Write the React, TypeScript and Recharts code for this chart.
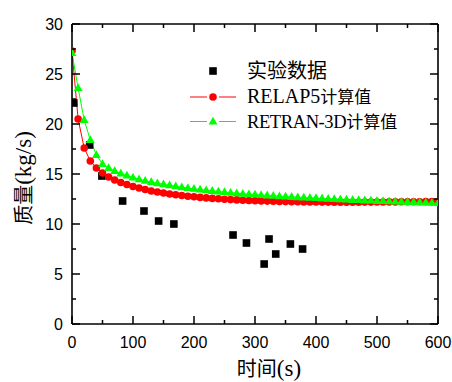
import React from 'react';
import { ComposedChart, XAxis, YAxis, Line, Scatter, Legend } from 'recharts';

const simTimes = [
  0, 10, 20, 30, 40, 50, 60, 70, 80, 90,
  100, 110, 120, 130, 140, 150, 160, 170, 180, 190,
  200, 210, 220, 230, 240, 250, 260, 270, 280, 290,
  300, 310, 320, 330, 340, 350, 360, 370, 380, 390,
  400, 410, 420, 430, 440, 450, 460, 470, 480, 490,
  500, 510, 520, 530, 540, 550, 560, 570, 580, 590, 600,
];
const relap5Mass = [
  27.3, 20.5, 17.6, 16.3, 15.6, 15.1, 14.7, 14.4, 14.15, 13.95,
  13.75, 13.6, 13.45, 13.3, 13.2, 13.1, 13.0, 12.92, 12.85, 12.78,
  12.72, 12.66, 12.61, 12.56, 12.52, 12.48, 12.44, 12.41, 12.38, 12.35,
  12.33, 12.31, 12.29, 12.27, 12.25, 12.24, 12.23, 12.22, 12.21, 12.2,
  12.2, 12.19, 12.19, 12.18, 12.18, 12.18, 12.18, 12.18, 12.19, 12.19,
  12.2, 12.2, 12.21, 12.21, 12.22, 12.22, 12.23, 12.23, 12.24, 12.24, 12.25,
];
const retranMass = [
  27.1, 23.6, 20.4, 18.4, 16.9, 16.0, 15.6, 15.3, 15.05, 14.85,
  14.65, 14.48, 14.33, 14.2, 14.08, 13.97, 13.87, 13.77, 13.68, 13.6,
  13.52, 13.45, 13.38, 13.31, 13.25, 13.19, 13.13, 13.08, 13.03, 12.98,
  12.94, 12.9, 12.86, 12.82, 12.78, 12.74, 12.71, 12.68, 12.65, 12.62,
  12.59, 12.56, 12.53, 12.5, 12.47, 12.44, 12.41, 12.39, 12.36, 12.34,
  12.31, 12.29, 12.27, 12.25, 12.23, 12.21, 12.19, 12.17, 12.15, 12.13, 12.11,
];
const expTimes = [3, 29, 49, 83, 118, 142, 167, 264, 286, 315, 323, 334, 358, 378];
const expMass = [22.1, 17.9, 14.8, 12.3, 11.3, 10.3, 10.0, 8.9, 8.1, 6.0, 8.5, 7.0, 8.0, 7.5];

const xTicks = [0, 50, 100, 150, 200, 250, 300, 350, 400, 450, 500, 550, 600];
const xMajor = [0, 100, 200, 300, 400, 500, 600];
const yTicks = [0, 2.5, 5, 7.5, 10, 12.5, 15, 17.5, 20, 22.5, 25, 27.5, 30];
const yMajor = [0, 5, 10, 15, 20, 25, 30];

const legendNames = ['实验数据', 'RELAP5', 'RETRAN-3D'];
const legendSuffix = '计算值';

const relapData = simTimes.map((t, i) => ({ x: t, y: relap5Mass[i] }));
const retranData = simTimes.map((t, i) => ({ x: t, y: retranMass[i] }));
const expData = expTimes.map((t, i) => ({ x: t, y: expMass[i] }));

// layout constants (chart frame)
const PLOT_TOP = 24;
const PLOT_RIGHT = 438;

const SANS = 'Liberation Sans, Arial, sans-serif';
const SERIF = 'Liberation Serif, Times New Roman, serif';
const CJK = 'Noto Sans CJK SC, sans-serif';
const MAJ = 8;
const MIN = 4;
const TW = 1.5;

const BottomTick = (props: any) => {
  const { x, y, payload } = props;
  const major = xMajor.includes(payload.value);
  const len = major ? MAJ : MIN;
  return (
    <g>
      <line x1={x} x2={x} y1={y} y2={y - len} stroke="#000" strokeWidth={TW} />
      <line x1={x} x2={x} y1={PLOT_TOP} y2={PLOT_TOP + len} stroke="#000" strokeWidth={TW} />
      {major && (
        <text x={x} y={y + 24} textAnchor="middle" fill="#000" style={{ fontFamily: SANS, fontSize: 16 }}>
          {payload.value}
        </text>
      )}
    </g>
  );
};
const LeftTick = (props: any) => {
  const { x, y, payload } = props;
  const major = yMajor.includes(payload.value);
  const len = major ? MAJ : MIN;
  return (
    <g>
      <line x1={x} x2={x + len} y1={y} y2={y} stroke="#000" strokeWidth={TW} />
      <line x1={PLOT_RIGHT} x2={PLOT_RIGHT - len} y1={y} y2={y} stroke="#000" strokeWidth={TW} />
      {major && (
        <text x={x - 9} y={y + 6} textAnchor="end" fill="#000" style={{ fontFamily: SANS, fontSize: 16 }}>
          {payload.value}
        </text>
      )}
    </g>
  );
};

const RedDot = (props: any) => {
  const { cx, cy, index } = props;
  if (cx == null || cy == null) return <g key={index} />;
  return <circle key={index} cx={cx} cy={cy} r={3.8} fill="#ff0000" />;
};
const GreenDot = (props: any) => {
  const { cx, cy, index } = props;
  if (cx == null || cy == null) return <g key={index} />;
  return (
    <polygon
      key={index}
      points={`${cx},${cy - 4.8} ${cx - 4.4},${cy + 3} ${cx + 4.4},${cy + 3}`}
      fill="#00ff00"
    />
  );
};
const BlackSquare = (props: any) => {
  const { cx, cy } = props;
  return <rect x={cx - 3.8} y={cy - 3.8} width={7.6} height={7.6} fill="#000" />;
};

const cjkStyle = (size: number) => ({ fontFamily: CJK, fontSize: size });
const serifStyle = (size: number) => ({ fontFamily: SERIF, fontSize: size });

const LegendBox = () => (
  <svg width={260} height={80} style={{ display: 'block', overflow: 'visible' }}>
    <rect x={24.2} y={12.2} width={7.6} height={7.6} fill="#000" />
    <text x={62} y={23} fill="#000" style={cjkStyle(20)}>{legendNames[0]}</text>

    <line x1={5} x2={22} y1={42} y2={42} stroke="#ff0000" strokeWidth={1} />
    <line x1={34} x2={51} y1={42} y2={42} stroke="#ff0000" strokeWidth={1} />
    <circle cx={28} cy={42} r={3.8} fill="#ff0000" />
    <text x={62} y={48} fill="#000">
      <tspan style={serifStyle(20)}>{legendNames[1]}</tspan>
      <tspan style={cjkStyle(17)}>{legendSuffix}</tspan>
    </text>

    <line x1={5} x2={22} y1={66.5} y2={66.5} stroke="#00ff00" strokeWidth={1} />
    <line x1={34} x2={51} y1={66.5} y2={66.5} stroke="#00ff00" strokeWidth={1} />
    <polygon points="28,61.7 23.6,69.5 32.4,69.5" fill="#00ff00" />
    <text x={62} y={73} fill="#000">
      <tspan style={{ ...serifStyle(18.5), letterSpacing: -0.4 }}>{legendNames[2]}</tspan>
      <tspan style={cjkStyle(17)}>{legendSuffix}</tspan>
    </text>
  </svg>
);

const YTitle = (props: any) => {
  const vb = props.viewBox || { x: 0, y: 24, width: 72, height: 300 };
  const cy = vb.y + vb.height / 2 + 4;
  const bx = 31;
  return (
    <text transform={`translate(${bx},${cy}) rotate(-90)`} textAnchor="middle" fill="#000">
      <tspan style={cjkStyle(20)}>质量</tspan>
      <tspan style={serifStyle(23)}>(kg/s)</tspan>
    </text>
  );
};
const XTitle = (props: any) => {
  const vb = props.viewBox || { x: 72, y: 324, width: 366, height: 58 };
  const cx = vb.x + vb.width / 2 + 14;
  return (
    <text x={cx} y={376} textAnchor="middle" fill="#000">
      <tspan style={cjkStyle(20)}>时间</tspan>
      <tspan style={serifStyle(23)}>(s)</tspan>
    </text>
  );
};

export default function App() {
  return (
    <div style={{ position: 'absolute', left: 0, top: 0, width: 452, height: 382, background: '#fff' }}>
      <ComposedChart width={452} height={382} margin={{ top: 0, right: 0, bottom: 0, left: 0 }}>
        <XAxis
          xAxisId="b"
          dataKey="x"
          type="number"
          domain={[0, 600]}
          ticks={xTicks}
          interval={0}
          height={58}
          tickSize={0}
          tickMargin={0}
          tickLine={false}
          tick={<BottomTick />}
          axisLine={{ stroke: '#000', strokeWidth: 1.6 }}
          allowDataOverflow
          label={{ content: <XTitle /> }}
        />
        <XAxis
          xAxisId="t"
          dataKey="x"
          orientation="top"
          type="number"
          domain={[0, 600]}
          ticks={xTicks}
          height={24}
          tick={false}
          tickLine={false}
          axisLine={{ stroke: '#000', strokeWidth: 1.6 }}
          allowDataOverflow
        />
        <YAxis
          yAxisId="l"
          dataKey="y"
          type="number"
          domain={[0, 30]}
          ticks={yTicks}
          interval={0}
          width={72}
          tickSize={0}
          tickMargin={0}
          tickLine={false}
          tick={<LeftTick />}
          axisLine={{ stroke: '#000', strokeWidth: 1.6 }}
          allowDataOverflow
          label={{ content: <YTitle /> }}
        />
        <YAxis
          yAxisId="r"
          dataKey="y"
          orientation="right"
          type="number"
          domain={[0, 30]}
          ticks={yTicks}
          width={14}
          tick={false}
          tickLine={false}
          axisLine={{ stroke: '#000', strokeWidth: 1.6 }}
          allowDataOverflow
        />
        <Legend
          layout="horizontal"
          verticalAlign="middle"
          align="center"
          wrapperStyle={{ left: 185, top: 55, width: 260, height: 80 }}
          content={() => <LegendBox />}
        />
        <Line
          xAxisId="t"
          yAxisId="r"
          data={relapData}
          dataKey="y"
          stroke="none"
          strokeOpacity={0}
          dot={false}
          activeDot={false}
          legendType="none"
          isAnimationActive={false}
        />
        <Line
          xAxisId="b"
          yAxisId="l"
          data={relapData}
          dataKey="y"
          type="linear"
          stroke="#ff0000"
          strokeWidth={1}
          dot={<RedDot />}
          activeDot={false}
          isAnimationActive={false}
        />
        <Line
          xAxisId="b"
          yAxisId="l"
          data={retranData}
          dataKey="y"
          type="linear"
          stroke="#00ff00"
          strokeWidth={1}
          dot={<GreenDot />}
          activeDot={false}
          isAnimationActive={false}
        />
        <Scatter
          xAxisId="b"
          yAxisId="l"
          data={expData}
          dataKey="y"
          fill="#000"
          shape={<BlackSquare />}
          isAnimationActive={false}
        />
      </ComposedChart>
    </div>
  );
}
